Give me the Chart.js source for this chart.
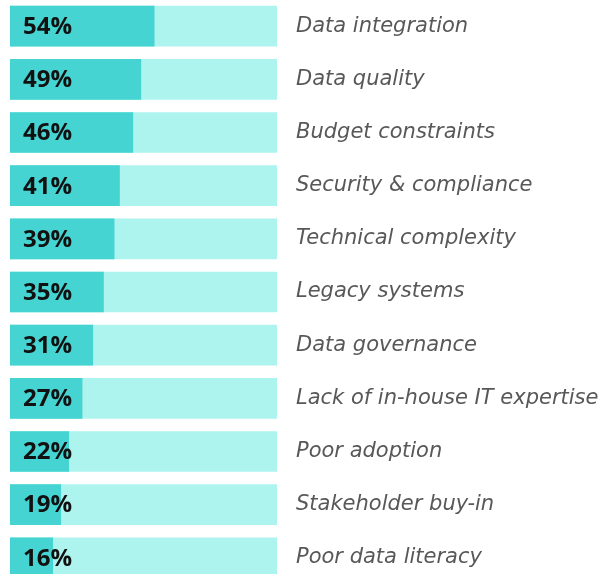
<!DOCTYPE html>
<html>
<head>
<meta charset="utf-8">
<script src="https://cdn.jsdelivr.net/npm/chart.js@4.4.1/dist/chart.umd.min.js"></script>
<style>
  html, body { margin: 0; padding: 0; background: #fff; overflow: hidden; }
  #wrap { position: relative; width: 606px; height: 648px; margin-top: -32px; }
</style>
</head>
<body>
<div id="wrap"><canvas id="chart"></canvas></div>
<script>
const categories = [
  'Data integration',
  'Data quality',
  'Budget constraints',
  'Security & compliance',
  'Technical complexity',
  'Legacy systems',
  'Data governance',
  'Lack of in-house IT expertise',
  'Poor adoption',
  'Stakeholder buy-in',
  'Poor data literacy'
]
const shares = [54, 49, 46, 41, 39, 35, 31, 27, 22, 19, 16]
const fullScale = categories.map(() => 100)

const barColor = '#45d4d2'
const trackColor = '#adf3ee'

// percentage text inside each bar
const valueLabels = {
  id: 'valueLabels',
  afterDatasetsDraw(chart) {
    const { ctx, chartArea } = chart
    const yScale = chart.scales.y
    ctx.save()
    ctx.font = 'bold 24px "Open Sans", sans-serif'
    ctx.fillStyle = '#111'
    ctx.textBaseline = 'middle'
    ctx.textAlign = 'left'
    shares.forEach((v, i) => {
      ctx.fillText(`${v}%`, chartArea.left + 13, yScale.getPixelForValue(i) + 1)
    })
    ctx.restore()
  }
}

const ctx = document.getElementById('chart')

new Chart(ctx, {
  type: 'bar',
  data: {
    labels: categories,
    datasets: [
      {
        data: shares,
        backgroundColor: barColor,
        order: 1,
        grouped: false,
        barThickness: 40
      },
      {
        data: fullScale,
        backgroundColor: trackColor,
        order: 2,
        grouped: false,
        barThickness: 40
      }
    ]
  },
  options: {
    indexAxis: 'y',
    responsive: true,
    maintainAspectRatio: false,
    animation: false,
    layout: { padding: { left: 10, top: 0, bottom: 0, right: 0 } },
    plugins: {
      legend: { display: false },
      tooltip: { enabled: false }
    },
    scales: {
      x: {
        display: false,
        min: 0,
        max: 100
      },
      y: {
        position: 'right',
        border: { display: false },
        grid: { display: false, drawTicks: false },
        afterFit(scale) {
          scale.width = 329
        },
        ticks: {
          padding: 19,
          color: '#585858',
          font: { family: '"DejaVu Sans", sans-serif', size: 21, style: 'italic' }
        }
      }
    }
  },
  plugins: [valueLabels]
});
</script>
</body>
</html>
